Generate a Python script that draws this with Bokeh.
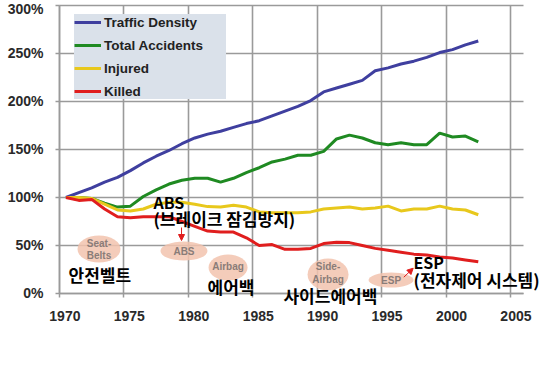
from bokeh.plotting import figure
from bokeh.models import (ColumnDataSource, FixedTicker, PrintfTickFormatter,
                          Label, Arrow, NormalHead, LinearAxis)
from bokeh.transform import dodge
from bokeh.core.properties import value
from bokeh.embed import file_html
from bokeh.resources import INLINE

years = list(range(1970, 2003))
traffic_density = [100, 105, 110, 116, 121, 128, 136, 143, 149, 156, 162, 166, 169, 173, 177,
                   180, 185, 190, 195, 201, 210, 214, 218, 222, 232, 235, 239, 242, 246, 251,
                   254, 259, 263]
total_accidents = [100, 100, 99, 94, 90, 91, 101, 108, 114, 118, 120, 120, 116, 120, 126,
                   131, 137, 140, 144, 144, 148, 161, 165, 162, 157, 155, 157, 155, 155, 167,
                   163, 164, 158]
injured = [100, 100, 99, 93, 87, 86, 88, 93, 95, 95, 93, 90.5, 90, 92, 90,
           85, 84, 84, 84, 85, 88, 89, 90, 88, 89, 91, 86, 88, 88, 91,
           88, 87, 82]
killed = [100, 97, 98, 88, 80, 79, 80, 80, 80, 75, 70, 65, 64, 64, 58,
          50, 51, 46, 46, 47, 52, 53.5, 53, 50, 47, 45, 43, 41, 40, 38,
          37, 35, 33]

series_names = ["Traffic Density", "Total Accidents", "Injured", "Killed"]
x_ticks = [1970, 1975, 1980, 1985, 1990, 1995, 2000, 2005]
y_ticks = [0, 50, 100, 150, 200, 250, 300]

src = ColumnDataSource(dict(year=years, td=traffic_density, ta=total_accidents,
                            inj=injured, kil=killed))

GRID = "#9a9a9a"
LBL = dict(major_label_text_font="Liberation Sans", major_label_text_font_style="bold",
           major_label_text_font_size="14px", major_label_text_color="#2a2a2a")

# frame covers the whole canvas so annotation texts are never clipped;
# axes are pinned at 1970 / 0% inside it
p = figure(width=547, height=365, x_range=(1965.4214, 2007.871), y_range=(-75.0, 305.208),
           output_backend="svg", toolbar_location=None,
           min_border_left=0, min_border_right=0, min_border_top=0,
           min_border_bottom=0)
p.outline_line_color = None
p.background_fill_color = "white"
p.border_fill_color = "white"

# x axis: line + tick marks at the gridlines (labels drawn by a second axis)
xa = p.xaxis[0]
xa.fixed_location = 0
xa.bounds = (1970, 2006)
xa.ticker = FixedTicker(ticks=x_ticks)
xa.axis_line_color = GRID
xa.axis_line_width = 1.5
xa.major_tick_line_color = GRID
xa.major_tick_line_width = 1.5
xa.major_tick_out = 4
xa.major_tick_in = 0
xa.minor_tick_line_color = None
xa.major_label_text_color = None

# x labels sit a little to the right of the gridlines (category centres)
xl = LinearAxis(fixed_location=0, ticker=FixedTicker(ticks=[t + 0.42 for t in x_ticks]),
                formatter=PrintfTickFormatter(format="%d"), axis_line_color=None,
                major_tick_line_color=None, minor_tick_line_color=None,
                major_tick_out=0, major_tick_in=0, major_label_standoff=18, **LBL)
p.add_layout(xl, "below")

ya = p.yaxis[0]
ya.fixed_location = 1970
ya.bounds = (0, 300)
ya.ticker = FixedTicker(ticks=y_ticks)
ya.formatter = PrintfTickFormatter(format="%d%%")
ya.axis_line_color = GRID
ya.axis_line_width = 1.5
ya.major_tick_line_color = GRID
ya.major_tick_line_width = 1.5
ya.major_tick_out = 4
ya.major_tick_in = 0
ya.minor_tick_line_color = None
ya.major_label_standoff = 12
for k, v in LBL.items():
    setattr(ya, k, v)

p.xgrid.ticker = FixedTicker(ticks=x_ticks)
p.ygrid.ticker = FixedTicker(ticks=y_ticks)
p.xgrid.cross_bounds = (0, 300)
p.ygrid.cross_bounds = (1970, 2006)
for g in (p.xgrid[0], p.ygrid[0]):
    g.grid_line_color = GRID
    g.grid_line_width = 1.6

xs = dodge("year", 0.5)
cols = ["td", "ta", "inj", "kil"]
colors = ["#3f3f9f", "#1f8a22", "#e8c81c", "#e01e1e"]
for c, col, name in zip(cols, colors, series_names):
    p.line(x=xs, y=c, source=src, line_color=col, line_width=3, legend_label=name)

lg = p.legend[0]
lg.location = (74, 266)
lg.margin = 0
lg.padding = 7
lg.spacing = 7
lg.glyph_width = 27
lg.glyph_height = 16
lg.label_height = 16
lg.label_width = 122
lg.label_standoff = 3
lg.background_fill_color = "#dae1ea"
lg.background_fill_alpha = 1
lg.border_line_color = None
lg.label_text_font = "Liberation Sans"
lg.label_text_font_style = "bold"
lg.label_text_font_size = "13.5px"
lg.label_text_color = "#222222"

# Safety-feature ellipses
ell_x = [1973.065, 1979.66, 1983.08, 1990.84, 1995.73]
ell_y = [46.35, 44.27, 27.08, 19.79, 14.06]
ell_w = [43, 47, 39, 41, 45]
ell_h = [27, 19, 26, 32, 15]
p.ellipse(x=ell_x, y=ell_y, width=ell_w, height=ell_h,
          width_units="screen", height_units="screen",
          fill_color="#f2c3ae", fill_alpha=0.85, line_color=None)

tag_x = [1973.065, 1973.065, 1979.66, 1983.08, 1990.84, 1990.84, 1995.73]
tag_y = [52.1, 39.6, 43.75, 28.1, 28.1, 14.6, 13.5]
tag_t = ["Seat-", "Belts", "ABS", "Airbag", "Side-", "Airbag", "ESP"]
p.text(x=tag_x, y=tag_y, text=tag_t, text_align="center", text_baseline="middle",
       text_font=value("Liberation Sans"), text_font_style="bold",
       text_font_size="10px", text_color="#8a7c78")

KFONT = "Noto Sans CJK KR"
labels = [
    (1970.70, 20.3, "안전벨트", "17px"),
    (1977.29, 95.8, "ABS", "16px"),
    (1977.29, 78.6, "(브레이크 잠김방지)", "17px"),
    (1981.49, 7.3, "에어백", "17px"),
    (1987.38, -2.1, "사이드에어백", "17px"),
    (1997.47, 32.8, "ESP", "16px"),
    (1997.47, 14.1, "(전자제어 시스템)", "17px"),
]
for lx, ly, lt, fs in labels:
    p.add_layout(Label(x=lx, y=ly, text=lt, text_font=KFONT, text_font_style="bold",
                       text_font_size=fs, text_color="black",
                       text_align="left", text_baseline="middle"))

p.add_layout(Arrow(end=NormalHead(size=6, fill_color="#e01e1e", line_color="#e01e1e", line_width=1),
                   x_start=1979.47, y_start=68.75, x_end=1979.47, y_end=55.2,
                   line_color="#e01e1e", line_width=1))
p.add_layout(Arrow(end=NormalHead(size=6, fill_color="#e01e1e", line_color="#e01e1e", line_width=1),
                   x_start=1996.72, y_start=17.0, x_end=1997.45, y_end=26.35,
                   line_color="#e01e1e", line_width=1))

open("out.html", "w").write(file_html(p, INLINE))
